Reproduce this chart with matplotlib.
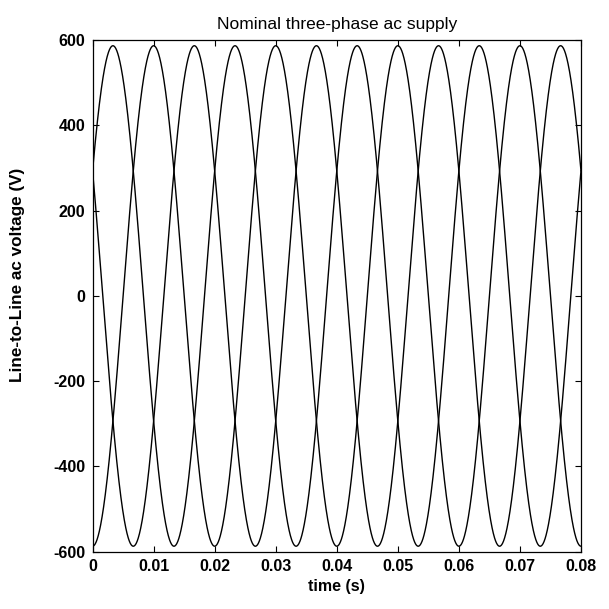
import numpy as np
import matplotlib
matplotlib.use("Agg")
import matplotlib.pyplot as plt

# supply parameters
v_peak = 587.0          # peak line-to-line voltage (V)
freq = 50.0             # supply frequency (Hz)
phase_deg = [30, -90, 150]   # vab, vbc, vca phase angles (deg)
t_end = 0.08

x_ticks = [0, 0.01, 0.02, 0.03, 0.04, 0.05, 0.06, 0.07, 0.08]
x_tick_labels = ["0", "0.01", "0.02", "0.03", "0.04", "0.05", "0.06", "0.07", "0.08"]
y_ticks = [-600, -400, -200, 0, 200, 400, 600]

plt.rcParams['font.family'] = ['Liberation Sans', 'DejaVu Sans']
plt.rcParams['axes.unicode_minus'] = False

t = np.linspace(0, t_end, 2001)

fig = plt.figure(figsize=(6.09, 6.09), dpi=100)
ax = fig.add_axes([0.152, 0.094, 0.802, 0.840])

for ph in phase_deg:
    v = v_peak * np.sin(2 * np.pi * freq * t + np.radians(ph))
    ax.plot(t, v, color="black", linewidth=1.0)

ax.set_xlim(0, t_end)
ax.set_ylim(-600, 600)
ax.set_xticks(x_ticks)
ax.set_xticklabels(x_tick_labels)
ax.set_yticks(y_ticks)
ax.tick_params(direction="in", top=True, right=True, length=4, width=0.8,
               labelsize=11.5, pad=5)
for lab in ax.get_xticklabels() + ax.get_yticklabels():
    lab.set_fontweight("bold")
for s in ax.spines.values():
    s.set_linewidth(0.9)

ax.set_xlabel("time (s)", fontsize=11.5, fontweight="bold", labelpad=4)
ax.set_ylabel("Line-to-Line ac voltage (V)", fontsize=12.3, fontweight="bold")
ax.yaxis.set_label_coords(-0.138, 0.542)
ax.set_title("Nominal three-phase ac supply", fontsize=12.5, pad=8)

fig.savefig("out.png", dpi=100)
